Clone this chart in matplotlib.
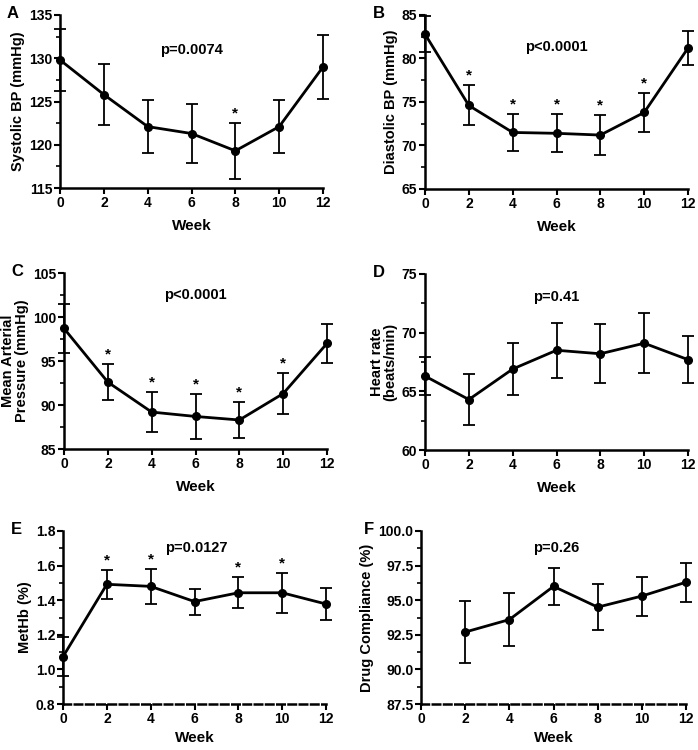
import matplotlib
matplotlib.use("Agg")
import matplotlib.pyplot as plt
from matplotlib.ticker import MultipleLocator
import numpy as np

plt.rcParams['font.family'] = ['Liberation Sans', 'DejaVu Sans']
plt.rcParams['font.weight'] = 'bold'

weeks = [0, 2, 4, 6, 8, 10, 12]
weeks_f = [2, 4, 6, 8, 10, 12]

sbp_mean = [129.8, 125.8, 122.1, 121.3, 119.3, 122.1, 129.0]
sbp_err = [3.6, 3.5, 3.1, 3.4, 3.2, 3.1, 3.7]

dbp_mean = [82.8, 74.6, 71.5, 71.4, 71.2, 73.8, 81.2]
dbp_err = [2.1, 2.3, 2.15, 2.2, 2.3, 2.2, 2.0]

map_mean = [98.7, 92.6, 89.2, 88.7, 88.3, 91.3, 97.0]
map_err = [2.8, 2.05, 2.25, 2.55, 2.05, 2.35, 2.2]

hr_mean = [66.3, 64.3, 66.9, 68.5, 68.2, 69.1, 67.7]
hr_err = [1.6, 2.2, 2.25, 2.35, 2.5, 2.55, 2.0]

methb_mean = [1.074, 1.492, 1.480, 1.392, 1.443, 1.443, 1.378]
methb_err = [0.113, 0.085, 0.10, 0.075, 0.09, 0.115, 0.09]

comp_mean = [92.7, 93.6, 96.0, 94.5, 95.3, 96.3]
comp_err = [2.25, 1.93, 1.36, 1.67, 1.41, 1.41]

fig = plt.figure(figsize=(6.98, 7.5), dpi=100)

panels = [
    dict(letter='A', rect=[0.086, 0.7493, 0.3768, 0.2307], x=weeks, y=sbp_mean, e=sbp_err,
         ylim=(115, 135), major=5, minor=2.5, ylabel='Systolic BP (mmHg)', p='p=0.0074',
         ppos=(6, 131), stars=[8], fmt='%d', dashed=False, xpad=7, lx=0.010),
    dict(letter='B', rect=[0.6089, 0.748, 0.3768, 0.232], x=weeks, y=dbp_mean, e=dbp_err,
         ylim=(65, 85), major=5, minor=2.5, ylabel='Diastolic BP (mmHg)', p='p<0.0001',
         ppos=(6, 81.3), stars=[2, 4, 6, 8, 10], fmt='%d', dashed=False, xpad=7, lx=0.534),
    dict(letter='C', rect=[0.0917, 0.4013, 0.3768, 0.2347], x=weeks, y=map_mean, e=map_err,
         ylim=(85, 105), major=5, minor=2.5, ylabel='Mean Arterial\nPressure (mmHg)', p='p<0.0001',
         ppos=(6, 102.5), stars=[2, 4, 6, 8, 10], fmt='%d', dashed=False, xpad=7, lx=0.017),
    dict(letter='D', rect=[0.6089, 0.40, 0.3768, 0.2347], x=weeks, y=hr_mean, e=hr_err,
         ylim=(60, 75), major=5, minor=2.5, ylabel='Heart rate\n(beats/min)', p='p=0.41',
         ppos=(6, 73), stars=[], fmt='%d', dashed=False, xpad=7, lx=0.534),
    dict(letter='E', rect=[0.0903, 0.0613, 0.3768, 0.2307], x=weeks, y=methb_mean, e=methb_err,
         ylim=(0.8, 1.8), major=0.2, minor=0.1, ylabel='MetHb (%)', p='p=0.0127',
         ppos=(6.1, 1.70), stars=[2, 4, 8, 10], fmt='%.1f', dashed=True, xpad=4, lx=0.016),
    dict(letter='F', rect=[0.6032, 0.0613, 0.3796, 0.2307], x=weeks_f, y=comp_mean, e=comp_err,
         ylim=(87.5, 100), major=2.5, minor=1.25, ylabel='Drug Compliance (%)', p='p=0.26',
         ppos=(6.1, 98.8), stars=[], fmt='%.1f', dashed=True, xpad=4, lx=0.522),
]

for pn in panels:
    ax = fig.add_axes(pn['rect'])
    ax.errorbar(pn['x'], pn['y'], yerr=pn['e'], color='black', lw=2, marker='o',
                markersize=5.5, ecolor='black', elinewidth=1.3, capsize=4, capthick=1.3,
                clip_on=False, zorder=3)
    ax.set_xlim(0, 12)
    ax.set_ylim(*pn['ylim'])
    ax.set_xticks(weeks)
    ax.yaxis.set_major_locator(MultipleLocator(pn['major']))
    ax.yaxis.set_minor_locator(MultipleLocator(pn['minor']))
    ax.yaxis.set_major_formatter(matplotlib.ticker.FormatStrFormatter(pn['fmt']))
    for s in ['top', 'right']:
        ax.spines[s].set_visible(False)
    ax.spines['left'].set_linewidth(1.8)
    ax.spines['bottom'].set_linewidth(1.8)
    if pn['dashed']:
        ax.spines['bottom'].set_linestyle((0, (3, 1.5)))
    ax.tick_params(axis='both', which='major', width=1.5, length=4, labelsize=10, pad=1.5)
    ax.tick_params(axis='y', which='minor', width=1.2, length=3)
    ax.tick_params(axis='x', which='minor', bottom=False)
    for lab in ax.get_xticklabels() + ax.get_yticklabels():
        lab.set_fontweight('bold')
    ax.set_xlabel('Week', fontsize=11, fontweight='bold', labelpad=pn['xpad'])
    ax.set_ylabel(pn['ylabel'], fontsize=10.5, fontweight='bold', labelpad=3, linespacing=1.0)
    ax.text(pn['ppos'][0], pn['ppos'][1], pn['p'], ha='center', va='center',
            fontsize=10.5, fontweight='bold')
    span = pn['ylim'][1] - pn['ylim'][0]
    for wk in pn['stars']:
        i = pn['x'].index(wk)
        ax.text(wk, pn['y'][i] + pn['e'][i] + span * 0.015, '*', ha='center', va='bottom',
                fontsize=11, fontweight='bold')
    l, b, w, h = pn['rect']
    fig.text(pn['lx'], b + h + 0.002, pn['letter'], fontsize=12, fontweight='bold',
             ha='left', va='center')

fig.savefig('out.png', dpi=100)
